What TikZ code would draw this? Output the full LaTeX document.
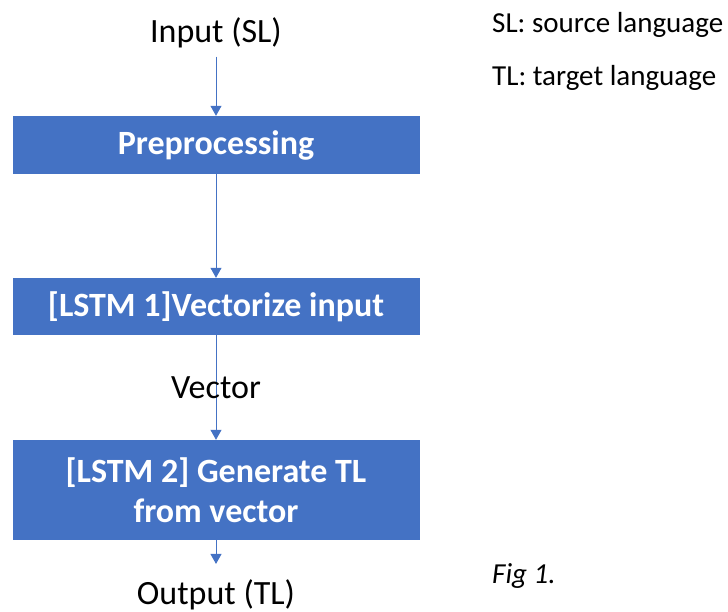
\documentclass[tikz,border=0pt]{standalone}
\usepackage{fontspec}
\setmainfont{Carlito}
\usetikzlibrary{arrows.meta}
\definecolor{boxblue}{HTML}{4472C4}
\tikzset{
  blk/.style={fill=boxblue, text=white, minimum width=407pt, align=center,
    font=\fontsize{34}{40}\selectfont\bfseries, inner sep=0pt},
  txt/.style={font=\fontsize{34}{40}\selectfont, inner sep=8pt, anchor=base},
  note/.style={font=\fontsize{29}{34}\selectfont, anchor=base west, inner sep=0pt},
  arr/.style={draw=boxblue, line width=1pt, -{Triangle[width=11pt,length=10pt]}}
}
\begin{document}
\begin{tikzpicture}[x=1pt,y=-1pt]
    \useasboundingbox (0,0) rectangle (728,612);
    \node[txt] (in) at (216,43) {Input (SL)};
    \node[blk, minimum height=58pt] (pre) at (216,145) {Preprocessing};
    \node[blk, minimum height=57pt] (vec) at (216,306.5) {[LSTM 1]Vectorize input};
    \node[blk, minimum height=100pt] (gen) at (216,490) {[LSTM 2] Generate TL\\from vector};
    \node[txt, inner ysep=15pt] (out) at (216,604) {Output (TL)};
    \draw[arr] (in) -- (pre);
    \draw[arr] (pre) -- (vec);
    \draw[arr] (vec) -- node[font=\fontsize{34}{40}\selectfont, inner sep=0pt] (lbl) {Vector} (gen);
    \draw[arr] (gen) -- (out);
    \node[note] (sl) at (492,33) {SL: source language};
    \node[note] (tl) at (492,86) {TL: target language};
    \node[note, font=\fontsize{29}{34}\selectfont\itshape] (fig) at (492,583) {Fig 1.};
\end{tikzpicture}
\end{document}
